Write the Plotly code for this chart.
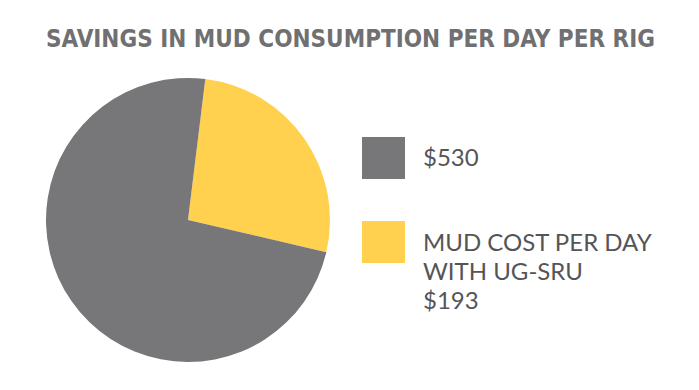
import plotly.graph_objects as go

labels = ["MUD COST PER DAY WITH UG-SRU $193", "$530"]
values = [193, 530]
colors = ["#FFD14F", "#77777A"]
legend_lines = [["$530"], ["MUD COST PER DAY", "WITH UG-SRU", "$193"]]
legend_colors = ["#77777A", "#FFD14F"]
title = "SAVINGS IN MUD CONSUMPTION PER DAY PER RIG"

W, H = 699, 390

fig = go.Figure(go.Pie(
    labels=labels, values=values, sort=False, direction="clockwise",
    rotation=7, marker=dict(colors=colors, line=dict(width=0)),
    textinfo="none", hoverinfo="label", showlegend=False,
    domain=dict(x=[46 / W, 330 / W], y=[1 - 362 / H, 1 - 78 / H]),
))

# custom legend: big swatches + text
box_tops = [137, 221]
line_centers = [[156], [241, 270, 299]]
for top, col, lines, centers in zip(box_tops, legend_colors, legend_lines, line_centers):
    fig.add_shape(type="rect", xref="paper", yref="paper",
                  x0=362 / W, x1=405 / W, y0=1 - (top + 42) / H, y1=1 - top / H,
                  fillcolor=col, line=dict(width=0))
    for txt, cy in zip(lines, centers):
        fig.add_annotation(x=421 / W, y=1 - cy / H, xref="paper", yref="paper",
                           xanchor="left", yanchor="middle", showarrow=False, align="left",
                           text=txt, font=dict(family="Lato", size=24, color="#555558"))

fig.add_annotation(x=350 / W, y=1 - 39 / H, xref="paper", yref="paper",
                   xanchor="center", yanchor="middle", showarrow=False,
                   text="<b>" + title + "</b>",
                   font=dict(family="DejaVu Sans Condensed", size=24, color="#707072"))

fig.update_layout(width=W, height=H, margin=dict(l=0, r=0, t=0, b=0),
                  paper_bgcolor="white", plot_bgcolor="white")
fig.write_html("out.html", config={"displayModeBar": False},
               post_script="document.body.style.margin='0';")
